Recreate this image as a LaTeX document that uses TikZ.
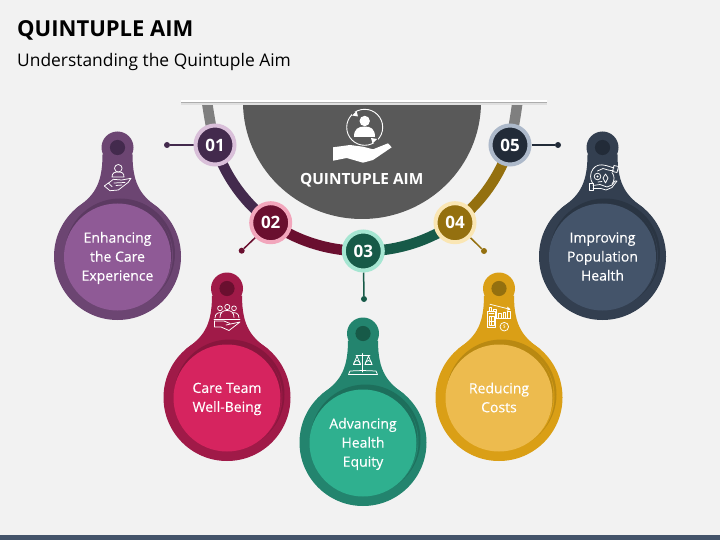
\documentclass[tikz,border=0pt]{standalone}
\usepackage{fontspec}
\setmainfont{Open Sans}
\newfontfamily\heavyish[FakeBold=0.25]{Open Sans}
\usetikzlibrary{backgrounds}
\definecolor{pagebg}{HTML}{F2F2F2}
\definecolor{hubgray}{HTML}{595959}
\definecolor{hubedge}{HTML}{3F3F3F}
\definecolor{stubgray}{HTML}{7F7F7F}
\definecolor{footbar}{HTML}{44546A}
\definecolor{pA}{HTML}{6C4572}\definecolor{pB}{HTML}{8F5A96}\definecolor{pC}{HTML}{5C3A62}\definecolor{pD}{HTML}{432A4D}\definecolor{pE}{HTML}{D9BFD9}
\definecolor{rA}{HTML}{A01A48}\definecolor{rB}{HTML}{D6245F}\definecolor{rC}{HTML}{88163D}\definecolor{rD}{HTML}{6A0F2F}\definecolor{rE}{HTML}{F2A6BC}
\definecolor{gA}{HTML}{23846E}\definecolor{gB}{HTML}{2FB08F}\definecolor{gC}{HTML}{1D6F5C}\definecolor{gD}{HTML}{175A48}\definecolor{gE}{HTML}{A6E6D2}
\definecolor{yA}{HTML}{DA9F16}\definecolor{yB}{HTML}{EDBB4E}\definecolor{yC}{HTML}{B98912}\definecolor{yD}{HTML}{94700F}\definecolor{yE}{HTML}{FAE6B4}
\definecolor{bA}{HTML}{333F50}\definecolor{bB}{HTML}{44546A}\definecolor{bC}{HTML}{2A3543}\definecolor{bD}{HTML}{222B38}\definecolor{bE}{HTML}{ADB9CA}
\tikzset{
  badge/.style n args={2}{circle,fill=#1,draw=#2,line width=4pt,minimum size=39pt,inner sep=0pt,text=white,font=\fontsize{17}{17}\selectfont\bfseries},
  tip/.style={circle,fill=#1,minimum size=6pt,inner sep=0pt},
  link/.style={line width=1.5pt,draw=#1},
  band/.style={line width=10.5pt,draw=#1},
  droptext/.style={text=white,align=center,font=\fontsize{14}{19}\heavyish},
  ico/.style={draw=white,line width=0.75pt,fill=none,line cap=round,line join=round},
}
\newcommand{\dropshape}[6]{% x,y,body,inner,crease,hole
  \begin{scope}[shift={(#1,#2)}]
    \fill[#3] (0,0) circle[radius=63.5];
    \fill[#3] (0,-109) circle[radius=16];
    \fill[#3] (-41,-48.5) .. controls (-25,-60) and (-15,-70) .. (-15,-102) -- (15,-102) .. controls (15,-70) and (25,-60) .. (41,-48.5) -- cycle;
    \fill[#5] (2.5,-3) circle[radius=55];
    \fill[#3] (1.5,-1) circle[radius=54];
    \fill[#5] (1,-2.5) circle[radius=53.5];
    \fill[#4] (0,0.5) circle[radius=53.5];
    \fill[#6] (0,-109) circle[radius=7.6];
  \end{scope}}
\begin{document}
\begin{tikzpicture}[x=1pt,y=-1pt]
\useasboundingbox (0,0) rectangle (720,540);
\begin{pgfonlayer}{background}
  \fill[pagebg] (0,0) rectangle (720,540);
\end{pgfonlayer}
\fill[footbar] (0,535) rectangle (720,540);
\node[anchor=west,inner sep=0pt,font=\fontsize{22}{22}\selectfont\bfseries] (title) at (17,30) {QUINTUPLE AIM};
\node[anchor=west,inner sep=0pt,font=\fontsize{17.4}{17.4}\selectfont] (subtitle) at (17,61.5) {Understanding the Quintuple Aim};

% hub
\fill[hubgray] (243,102) arc[start angle=180,end angle=360,radius=119,y radius=-117] -- cycle;
\fill[hubedge] (243,102) rectangle (481,104.5);
\coordinate (stubL) at (207,102);
\coordinate (stubR) at (517.5,102);
\fill[black!12] (181,103) rectangle (547,105);
\fill[black!32] (181,102) rectangle (547,103.5);
\fill[white] (181,100.5) rectangle (547,102.3);

% hub icon
\draw[white,line width=0.9pt] (364.7,127.3) circle[radius=18];
\fill[hubgray] (352,112) rectangle (356,116);
\fill[hubgray] (373,138) rectangle (378,143);
\fill[white] (356.5,111) -- (352,115.5) -- (358,116.5) -- cycle;
\fill[white] (372.5,143.5) -- (377,139) -- (371,138) -- cycle;
\fill[white] (364.7,121) circle[radius=5.2];
\fill[white] (354,137) .. controls (354,129) and (358,126.5) .. (364.7,126.5) .. controls (371,126.5) and (375,129) .. (375,137) -- cycle;
\fill[white] (333,147.3) -- (333,160.7) -- (346.7,158) -- (363,162.7) -- (373,160) -- (391.7,147.3) -- (388,143.3) -- (373,149.3) -- (363,146.7) -- (350,145) -- cycle;
\node[text=white,font=\fontsize{15.4}{15.4}\selectfont\bfseries] (hub) at (361.7,180.7) {QUINTUPLE AIM};

% drops
\dropshape{117.5}{256.5}{pA}{pB}{pC}{pD}
\dropshape{227}{397.5}{rA}{rB}{rC}{rD}
\dropshape{363}{442.5}{gA}{gB}{gC}{gD}
\dropshape{499}{397.5}{yA}{yB}{yC}{yD}
\dropshape{602.5}{256.5}{bA}{bB}{bC}{bD}

\node[droptext] (t1) at (117.5,258) {Enhancing\\the Care\\Experience};
\node[droptext] (t2) at (227,399) {Care Team\\Well-Being};
\node[droptext] (t3) at (363,444) {Advancing\\Health\\Equity};
\node[droptext] (t4) at (499,397.5) {Reducing\\Costs};
\node[droptext] (t5) at (602.5,256.5) {Improving\\Population\\Health};

% badges
\node[badge={pD}{pE}] (n1) at (215,145) {01};
\node[badge={rD}{rE}] (n2) at (270.7,222.7) {02};
\node[badge={gD}{gE}] (n3) at (363.3,251) {03};
\node[badge={yD}{yE}] (n4) at (455,222.7) {04};
\node[badge={bD}{bE}] (n5) at (510,145) {05};

\node[tip=pD] (d1) at (167,145) {};
\node[tip=rD] (d2) at (241.7,250.7) {};
\node[tip=gD] (d3) at (364,299) {};
\node[tip=yD] (d4) at (484,251) {};
\node[tip=bD] (d5) at (558,145) {};
\begin{pgfonlayer}{background}
  \draw[link=pD] (n1) -- (d1);
  \draw[link=rD] (n2) -- (d2);
  \draw[link=gD] (n3) -- (d3);
  \draw[link=yD] (n4) -- (d4);
  \draw[link=bD] (n5) -- (d5);
  \draw[band=stubgray] (stubL) to[bend right=2] (n1.center);
  \draw[band=stubgray] (stubR) to[bend left=2] (n5.center);
  \draw[band=pD] (n1.center) to[bend right=17.7,looseness=0.87] (n2.center);
  \draw[band=rD] (n2.center) to[bend right=17.7,looseness=0.87] (n3.center);
  \draw[band=gD] (n3.center) to[bend right=17.7,looseness=0.87] (n4.center);
  \draw[band=yD] (n4.center) to[bend right=17.7,looseness=0.87] (n5.center);
\end{pgfonlayer}

% icon 1: person over hand
\draw[ico] (118.3,168.3) circle[radius=3.8];
\draw[ico] (112,177) .. controls (112,172.5) and (115,172) .. (118.3,172) .. controls (122,172) and (124,173) .. (124,177) -- cycle;
\draw[ico] (104.3,186) -- (110,190.7) -- (118.3,190) -- (128.3,182.3) -- (131,178.3) -- (121.7,180) -- (113.3,179.3) -- (108.3,183.3);
\draw[ico] (104.3,186) -- (108.3,183) -- (112,186.5);
\draw[ico] (114,183) -- (125,182.5) (116,185.5) -- (122,185);

% icon 2: team on a hand
\draw[ico] (220,308.3) circle[radius=2.4];
\draw[ico] (227.3,307) circle[radius=2.6];
\draw[ico] (234,308.3) circle[radius=2.4];
\draw[ico] (215,318) .. controls (215,313) and (219,312) .. (222,313);
\draw[ico] (239,318) .. controls (239,313) and (235,312) .. (232,313);
\draw[ico] (220,317.5) .. controls (220,312) and (223,310.5) .. (227,310.5) .. controls (231,310.5) and (234,312) .. (234,317.5);
\draw[ico] (214,319) -- (240,319);
\draw[ico] (214.5,321) -- (214.5,327) -- (221,327) -- (229,330.5) -- (240,322) -- (233,323.5) -- (226,325);
\draw[ico] (214.5,321) -- (224,321) -- (230,323.5);

% icon 3: scales and book
\draw[ico] (362.7,353.5) -- (362.7,372);
\draw[ico] (356,355.5) -- (370,355.5);
\draw[ico] (357,356) -- (353.5,364.5) -- (360.5,364.5) -- cycle;
\draw[ico] (353.5,364.5) arc[start angle=180,end angle=0,radius=3.5,y radius=-4];
\draw[ico] (368.5,356) -- (365,364.5) -- (372,364.5) -- cycle;
\draw[ico] (365,364.5) arc[start angle=180,end angle=0,radius=3.5,y radius=-4];
\draw[ico] (348.5,374.5) -- (350,371) -- (362.7,370.5) -- (376,371) -- (377.5,374.5) -- cycle;

% icon 4: calculator, chart, coin
\draw[ico] (487.3,311.7) rectangle (495.7,327.5);
\draw[ico] (489,313.5) -- (494,313.5);
\draw[ico] (489,316.5) rectangle (494,325.5);
\draw[ico] (491.5,316.5) -- (491.5,325.5) (489,321) -- (494,321);
\draw[ico] (490,304.3) -- (510,309.3) (510,309.3) -- (507.5,307.2) (510,309.3) -- (507,310.2);
\draw[ico] (489,311.5) -- (489,307.5) -- (491.7,307.5) -- (491.7,311.5);
\draw[ico] (493.5,311.5) -- (493.5,309.5) -- (496,309.5) -- (496,318.3);
\draw[ico] (495.7,318.3) -- (510.7,318.3);
\draw[ico] (498.5,318.3) -- (498.5,313) -- (501.5,313) -- (501.5,318.3);
\draw[ico] (503.5,318.3) -- (503.5,312) -- (505.5,312) -- (505.5,318.3);
\draw[ico] (507,318.3) -- (507,311.5) -- (510,311.5) -- (510,318.3);
\draw[ico] (504.3,326.7) circle[radius=4.3];
\node[text=white,inner sep=0pt,font=\fontsize{5}{5}\selectfont] (coin) at (504.3,326.7) {\$};

% icon 5: hands around gears
\draw[ico] (614,168) -- (606,165.5) .. controls (600,164) and (596,165) .. (593,169) .. controls (590,173) and (589.5,179) .. (593,184);
\draw[ico] (614,171) -- (608,170) -- (603,168.5) -- (597.5,171);
\draw[ico] (614,165.5) -- (618.5,166.5) -- (617,172.5) -- (612.5,171.5) -- cycle;
\draw[ico] (593,185.5) -- (600,184.5) -- (607,187) -- (612,185) -- (615,181);
\draw[ico] (593,188.5) -- (601,188.5) -- (606,190) -- (612,187.5) -- (617,181) -- (615,181);
\draw[ico] (589.5,183.5) rectangle (593,190);
\draw[ico] (612,172.5) .. controls (615,176) and (614.5,181) .. (612,184);
\draw[ico] (597.5,176.5) circle[radius=3.3];
\fill[white] (597.5,176.5) circle[radius=1.1];
\draw[ico] (605.5,174) -- (608,178) -- (605.5,183) -- (603,178) -- cycle;
\draw[ico] (598,182) -- (602,181.5);
\end{tikzpicture}
\end{document}
